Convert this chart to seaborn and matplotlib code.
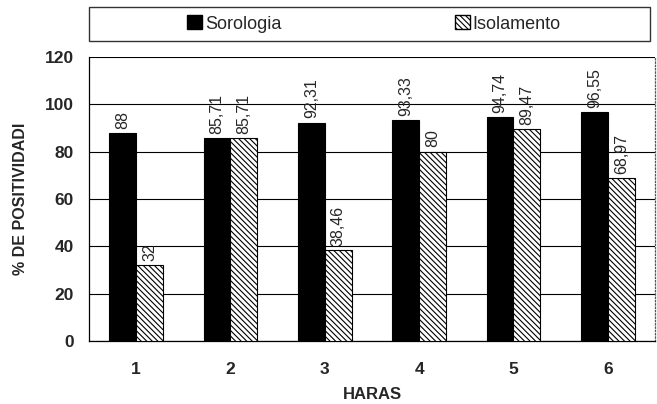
import pandas as pd
import numpy as np
import matplotlib.pyplot as plt
import seaborn as sns
from matplotlib.patches import Patch, Rectangle

# data
haras = ['1', '2', '3', '4', '5', '6']
sorologia = [88, 85.71, 92.31, 93.33, 94.74, 96.55]
isolamento = [32, 85.71, 38.46, 80, 89.47, 68.97]

df = pd.DataFrame({
    'HARAS': haras * 2,
    'valor': sorologia + isolamento,
    'serie': ['Sorologia'] * 6 + ['Isolamento'] * 6,
})

sns.set_style('white')
plt.rcParams['font.family'] = ['Liberation Sans', 'DejaVu Sans']
plt.rcParams['hatch.linewidth'] = 0.8

fig = plt.figure(figsize=(6.57, 4.04), dpi=100)
ax = fig.add_axes([89 / 657, 1 - 341 / 404, (655 - 89) / 657, (341 - 57) / 404])

sns.barplot(data=df, x='HARAS', y='valor', hue='serie',
            palette={'Sorologia': 'black', 'Isolamento': 'white'},
            edgecolor='black', linewidth=0.8, width=0.57,
            legend=False, ax=ax, zorder=3)

hatch = '\\' * 6
for p in ax.containers[1]:
    p.set_hatch(hatch)

for cont, vals in zip(ax.containers, [sorologia, isolamento]):
    labs = [f'{v:g}'.replace('.', ',') for v in vals]
    ax.bar_label(cont, labels=labs, rotation=90, padding=3, fontsize=11.5)

ax.set_ylim(0, 120)
ax.set_yticks(np.arange(0, 121, 20))
ax.set_xlim(-0.5, 5.5)
ax.yaxis.grid(True, color='black', linewidth=0.8, zorder=0)
ax.set_axisbelow(True)

# ticks between categories on x
ax.set_xticks(np.arange(-0.5, 6, 1), minor=True)
ax.tick_params(axis='x', which='major', length=0, pad=15)
ax.tick_params(axis='x', which='minor', length=5, width=0.8, color='black', direction='out')
ax.tick_params(axis='y', length=6, width=0.8, color='black', direction='out', pad=5)
for lab in ax.get_xticklabels() + ax.get_yticklabels():
    lab.set_fontweight('bold')
    lab.set_fontsize(12.5)

ax.set_xlabel('HARAS', fontsize=12, fontweight='bold', labelpad=7)
ax.set_ylabel('% DE POSITIVIDADI', fontsize=11.5, fontweight='bold', labelpad=12)

for s in ['left', 'bottom']:
    ax.spines[s].set_color('black')
    ax.spines[s].set_linewidth(0.9)
ax.spines['top'].set_visible(False)
ax.spines['right'].set_color('#555555')
ax.spines['right'].set_linestyle(':')
ax.spines['right'].set_linewidth(0.9)

# legend box above the plot
fig.patches.append(Rectangle((89 / 657, 1 - 41 / 404), (650 - 89) / 657, 34 / 404,
                             transform=fig.transFigure, fill=False,
                             edgecolor='#333333', linewidth=1.0))
handles = [Patch(facecolor='black', edgecolor='black'),
           Patch(facecolor='white', edgecolor='black', hatch=hatch)]
fig.legend(handles, ['Sorologia', 'Isolamento'], ncol=2, frameon=False,
           loc='center left', bbox_to_anchor=(178 / 657, 1 - 24 / 404),
           fontsize=13, handlelength=0.85, handleheight=0.8,
           handletextpad=0.15, columnspacing=9.6, borderpad=0)

fig.savefig('out.png', dpi=100)
